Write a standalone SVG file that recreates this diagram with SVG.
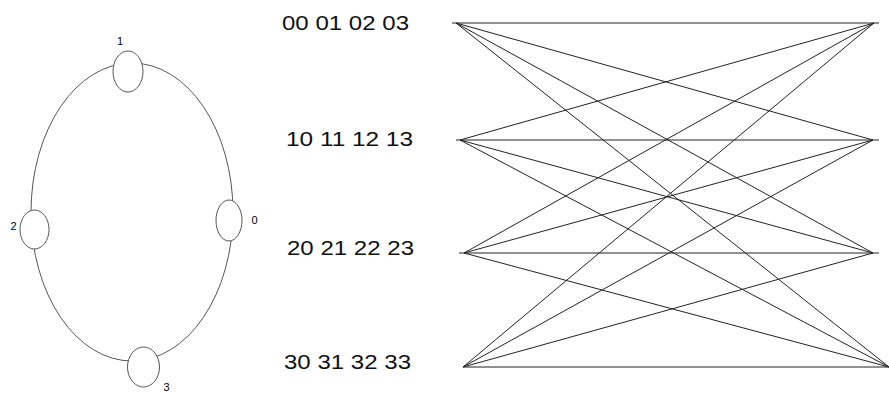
<svg xmlns="http://www.w3.org/2000/svg" width="889" height="393" viewBox="0 0 889 393">
  <style>
    .ring { fill: none; stroke: #555; stroke-width: 1; }
    .proc { fill: #fff; stroke: #555; stroke-width: 1; }
    .lbl { font-family: "Liberation Sans", Arial, sans-serif; font-size: 11px; fill: #000; text-anchor: middle; }
    .row { font-family: "Liberation Sans", Arial, sans-serif; font-size: 19.5px; fill: #111; }
    .edge { stroke: #222; stroke-width: 1; fill: none; }
  </style>

  <rect width="889" height="393" fill="#fff"/>

  <!-- ring of four processors -->
  <g id="ring-links">
    <ellipse class="ring" cx="132" cy="212" rx="101" ry="149"/>
  </g>
  <g id="p1">
    <ellipse class="proc" cx="128" cy="71.5" rx="15" ry="20.5"/>
    <text class="lbl" x="120" y="45">1</text>
  </g>
  <g id="p0">
    <ellipse class="proc" cx="229" cy="220.5" rx="13" ry="20.5"/>
    <text class="lbl" x="254.5" y="224">0</text>
  </g>
  <g id="p2">
    <ellipse class="proc" cx="34.5" cy="229.5" rx="14.5" ry="19.5"/>
    <text class="lbl" x="13.5" y="230">2</text>
  </g>
  <g id="p3">
    <ellipse class="proc" cx="143.5" cy="367" rx="16" ry="20"/>
    <text class="lbl" x="166.5" y="391">3</text>
  </g>

  <!-- row blocks -->
  <g id="row0"><text class="row" x="282" y="29.5" textLength="127" lengthAdjust="spacingAndGlyphs">00 01 02 03</text></g>
  <g id="row1"><text class="row" x="286" y="146" textLength="127" lengthAdjust="spacingAndGlyphs">10 11 12 13</text></g>
  <g id="row2"><text class="row" x="287" y="255" textLength="127" lengthAdjust="spacingAndGlyphs">20 21 22 23</text></g>
  <g id="row3"><text class="row" x="284" y="369" textLength="127" lengthAdjust="spacingAndGlyphs">30 31 32 33</text></g>

  <!-- all-to-all exchange between the four rows -->
  <g id="connectors">
    <line class="edge" x1="452" y1="23" x2="879" y2="23"/>
    <line class="edge" x1="456" y1="140" x2="879" y2="140"/>
    <line class="edge" x1="459" y1="253" x2="879" y2="253"/>
    <line class="edge" x1="463" y1="367" x2="889" y2="367"/>

    <line class="edge" x1="456" y1="23" x2="873" y2="140"/>
    <line class="edge" x1="456" y1="23" x2="873" y2="253"/>
    <line class="edge" x1="456" y1="23" x2="889" y2="367"/>

    <line class="edge" x1="460" y1="140" x2="874" y2="23"/>
    <line class="edge" x1="460" y1="140" x2="873" y2="253"/>
    <line class="edge" x1="460" y1="140" x2="889" y2="367"/>

    <line class="edge" x1="464" y1="253" x2="874" y2="23"/>
    <line class="edge" x1="464" y1="253" x2="873" y2="140"/>
    <line class="edge" x1="464" y1="253" x2="889" y2="367"/>

    <line class="edge" x1="463" y1="367" x2="874" y2="23"/>
    <line class="edge" x1="463" y1="367" x2="873" y2="140"/>
    <line class="edge" x1="463" y1="367" x2="873" y2="253"/>
  </g>
</svg>
